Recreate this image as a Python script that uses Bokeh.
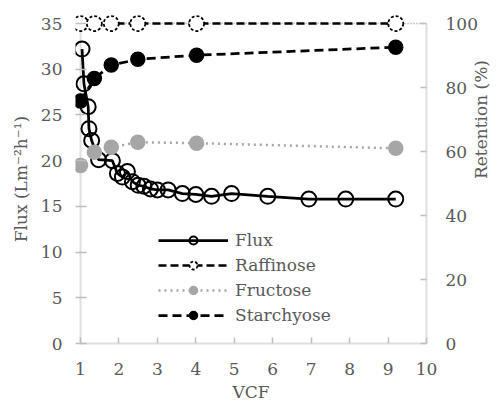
import math
from bokeh.plotting import figure
from bokeh.models import LinearAxis, Range1d, Legend, LegendItem, FixedTicker
from bokeh.embed import file_html
from bokeh.resources import INLINE

# ---- data ----
vcf_flux = [1.04, 1.09, 1.20, 1.22, 1.29, 1.47, 1.83, 1.96, 2.09, 2.22, 2.35, 2.50,
            2.65, 2.82, 3.00, 3.28, 3.65, 4.00, 4.41, 4.93, 5.87, 6.94, 7.90, 9.20]
flux = [32.2, 28.4, 25.9, 23.5, 22.2, 20.1, 20.0, 18.6, 18.2, 18.8, 17.7, 17.3,
        17.2, 16.9, 16.8, 16.8, 16.4, 16.3, 16.1, 16.4, 16.1, 15.8, 15.8, 15.8]

vcf_sugar = [1.0, 1.36, 1.80, 2.49, 4.02, 9.20]
raffinose = [100, 100, 100, 100, 100, 100]
fructose = [55.6, 59.8, 61.3, 62.9, 62.6, 61.0]
starchyose = [75.8, 82.8, 87.0, 88.8, 90.1, 92.6]

x_ticks = [1, 2, 3, 4, 5, 6, 7, 8, 9, 10]
left_ticks = [0, 5, 10, 15, 20, 25, 30, 35]
right_ticks = [0, 20, 40, 60, 80, 100]

FONT = "DejaVu Serif"
TXT = "#595959"
AX = "#bfbfbf"

frame_w, frame_h = 351, 329
x0 = x_ticks[0] - 5 / (frame_w / (x_ticks[-1] - x_ticks[0] + 5 / 38.4))
ytop = left_ticks[-1] * frame_h / 320
rtop = right_ticks[-1] * frame_h / 320

p = figure(width=498, height=406, output_backend="svg", toolbar_location=None,
           x_range=Range1d(x0, x_ticks[-1]), y_range=Range1d(0, ytop),
           frame_width=frame_w, frame_height=frame_h,
           x_axis_location=None, y_axis_location=None,
           min_border_left=75, min_border_right=72, min_border_top=14, min_border_bottom=63)
p.extra_y_ranges = {"ret": Range1d(0, rtop)}
p.xgrid.visible = False
p.ygrid.visible = False
p.outline_line_color = None
p.background_fill_color = "white"
p.border_fill_color = "white"

def style(ax, size="17px"):
    ax.axis_line_color = AX
    ax.axis_line_width = 2
    ax.axis_line_dash = "1 1"
    ax.major_tick_line_color = AX
    ax.major_tick_line_width = 1.5
    ax.major_tick_in = 6
    ax.major_tick_out = 0
    ax.minor_tick_line_color = None
    ax.major_label_text_font = FONT
    ax.major_label_text_font_size = size
    ax.major_label_text_color = TXT
    ax.axis_label_text_font = FONT
    ax.axis_label_text_font_size = size
    ax.axis_label_text_color = TXT
    ax.axis_label_text_font_style = "normal"

xaxis = LinearAxis(axis_label="VCF", ticker=FixedTicker(ticks=x_ticks),
                   bounds=(x_ticks[0], x_ticks[-1]))
style(xaxis)
xaxis.major_label_standoff = 19
xaxis.axis_label_standoff = 4
p.add_layout(xaxis, "below")

yaxis = LinearAxis(axis_label="Flux (Lm⁻²h⁻¹)", ticker=FixedTicker(ticks=left_ticks),
                   bounds=(left_ticks[0], left_ticks[-1]))
style(yaxis)
yaxis.axis_line_color = None
yaxis.major_tick_in = 11
yaxis.major_label_standoff = 13
yaxis.axis_label_standoff = 7
p.add_layout(yaxis, "left")

raxis = LinearAxis(y_range_name="ret", axis_label="Retention (%)",
                   ticker=FixedTicker(ticks=right_ticks),
                   bounds=(right_ticks[0], right_ticks[-1]))
style(raxis)
raxis.major_label_standoff = 19
raxis.axis_label_standoff = 0
raxis.axis_label_orientation = math.pi / 2
p.add_layout(raxis, "right")

# left axis line at VCF = 1 and top border at 35
p.segment(x0=[x_ticks[0]], y0=[left_ticks[0]], x1=[x_ticks[0]], y1=[left_ticks[-1]],
          line_color=AX, line_width=2, line_dash="1 1")
p.segment(x0=[x_ticks[0]], y0=[left_ticks[-1]], x1=[x_ticks[-1]], y1=[left_ticks[-1]],
          line_color="#9a9a9a", line_width=1.5, line_dash="1 2")

# series
fl_line = p.line(vcf_flux, flux, line_color="black", line_width=2.75)
fl_pts = p.scatter(vcf_flux, flux, marker="circle", size=15, fill_color="white",
                   fill_alpha=0.0, line_color="black", line_width=2)

ra_line = p.line(vcf_sugar, raffinose, y_range_name="ret", line_color="black",
                 line_width=2.5, line_dash="8 4")
ra_pts = p.scatter(vcf_sugar, raffinose, y_range_name="ret", marker="circle", size=15,
                   fill_color="white", line_color="black", line_width=1.75, line_dash="3 2")

fr_line = p.line(vcf_sugar, fructose, y_range_name="ret", line_color="#a6a6a6",
                 line_width=2.5, line_dash="2 4")
fr_pts = p.scatter(vcf_sugar, fructose, y_range_name="ret", marker="circle", size=14,
                   fill_color="#a6a6a6", line_color="#a6a6a6", line_width=1.5)

st_line = p.line(vcf_sugar, starchyose, y_range_name="ret", line_color="black",
                 line_width=2.75, line_dash="9 5")
st_pts = p.scatter(vcf_sugar, starchyose, y_range_name="ret", marker="circle", size=14,
                   fill_color="black", line_color="black", line_width=1.5)

legend = Legend(items=[
    LegendItem(label="Flux", renderers=[fl_line, fl_pts]),
    LegendItem(label="Raffinose", renderers=[ra_line, ra_pts]),
    LegendItem(label="Fructose", renderers=[fr_line, fr_pts]),
    LegendItem(label="Starchyose", renderers=[st_line, st_pts]),
], location=(83, 18))
legend.padding = 0
legend.margin = 0
legend.spacing = 5
legend.glyph_width = 70
legend.glyph_height = 20
legend.label_standoff = 7
legend.label_height = 20
legend.label_text_font = FONT
legend.label_text_font_size = "17px"
legend.label_text_color = TXT
legend.border_line_color = None
legend.background_fill_alpha = 0
p.add_layout(legend, "center")

open("out.html", "w").write(file_html(p, INLINE))
